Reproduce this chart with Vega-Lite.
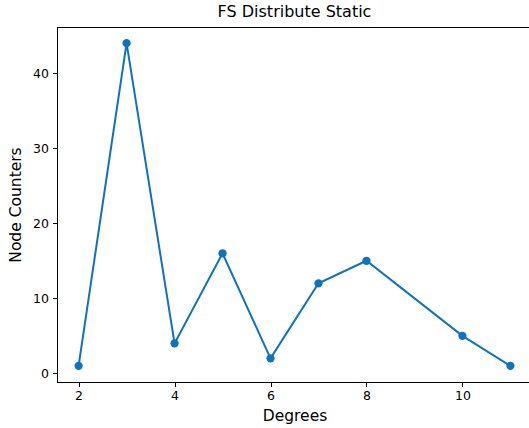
{
  "$schema": "https://vega.github.io/schema/vega-lite/v6.json",
  "autosize": "none",
  "padding": {"left": 57, "top": 27, "right": 0, "bottom": 46},
  "width": 475,
  "height": 355,
  "background": "white",
  "config": {
    "font": "DejaVu Sans",
    "view": {"stroke": "black", "strokeWidth": 1},
    "axis": {
      "grid": false,
      "domainColor": "black",
      "tickColor": "black",
      "labelColor": "black",
      "titleColor": "black",
      "labelFont": "DejaVu Sans",
      "titleFont": "DejaVu Sans",
      "labelFontSize": 12.5,
      "titleFontSize": 15.5,
      "titleFontWeight": "normal",
      "tickSize": 4.5,
      "domainWidth": 1
    }
  },
  "title": {
    "text": "FS Distribute Static",
    "font": "DejaVu Sans",
    "fontSize": 16,
    "fontWeight": "normal",
    "color": "black",
    "offset": 7,
    "anchor": "middle"
  },
  "data": {
    "values": [
      {"deg": 2, "count": 1},
      {"deg": 3, "count": 44},
      {"deg": 4, "count": 4},
      {"deg": 5, "count": 16},
      {"deg": 6, "count": 2},
      {"deg": 7, "count": 12},
      {"deg": 8, "count": 15},
      {"deg": 10, "count": 5},
      {"deg": 11, "count": 1}
    ]
  },
  "mark": {"type": "line", "color": "#0f72bb", "strokeWidth": 2, "point": {"filled": true, "size": 68, "color": "#0f72bb", "opacity": 1}},
  "encoding": {
    "x": {
      "field": "deg",
      "type": "quantitative",
      "title": "Degrees",
      "scale": {"domain": [1.55, 11.45], "nice": false, "zero": false},
      "axis": {"values": [2, 4, 6, 8, 10], "labelPadding": 3, "titlePadding": 6, "format": "d"}
    },
    "y": {
      "field": "count",
      "type": "quantitative",
      "title": "Node Counters",
      "scale": {"domain": [-1.15, 46.15], "nice": false, "zero": false},
      "axis": {"values": [0, 10, 20, 30, 40], "labelPadding": 4, "titlePadding": 9, "format": "d"}
    }
  }
}
